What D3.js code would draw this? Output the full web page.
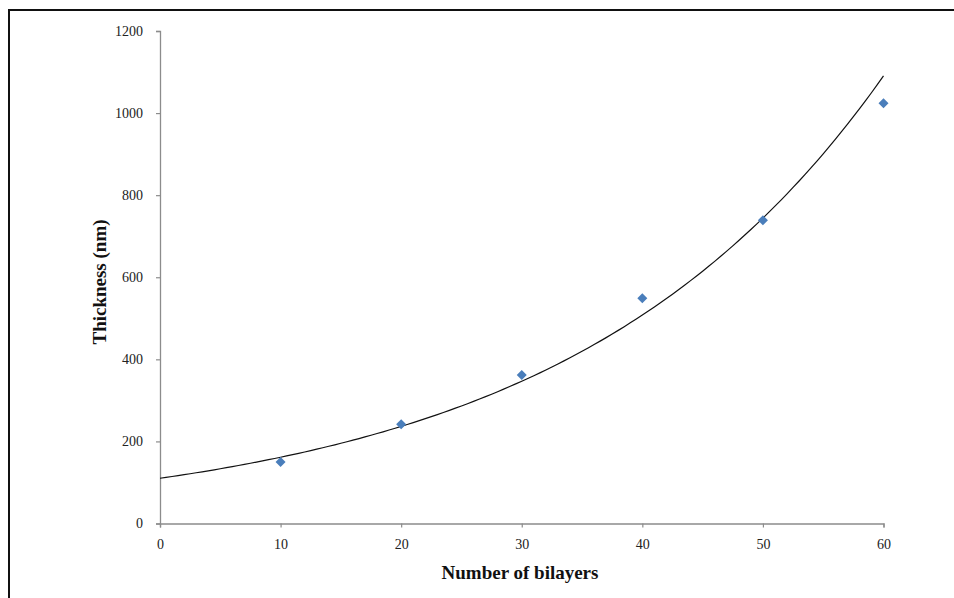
<!DOCTYPE html>
<html>
<head>
<meta charset="utf-8">
<script src="https://cdn.jsdelivr.net/npm/d3@7"></script>
<style>
  html, body { margin: 0; padding: 0; background: #fff; }
  svg { display: block; }
  .tick text { font-family: "Liberation Serif", "Times New Roman", serif; font-size: 14px; fill: #222; }
  .title { font-family: "Liberation Serif", "Times New Roman", serif; font-size: 19px; font-weight: bold; fill: #111; }
</style>
</head>
<body>
<svg id="chart" width="954" height="598"></svg>
<script>
// Film thickness measured after each deposition step
const bilayers = [10, 20, 30, 40, 50, 60];
const thickness = [150, 242, 362, 549, 739, 1024];
const xTicks = [0, 10, 20, 30, 40, 50, 60];
const yTicks = [0, 200, 400, 600, 800, 1000, 1200];

const svg = d3.select("#chart");
const W = 954, H = 598;

// outer frame (runs off the right and bottom edges)
svg.append("rect")
  .attr("x", 9).attr("y", 10)
  .attr("width", W + 20).attr("height", H + 20)
  .attr("fill", "#fff").attr("stroke", "#111").attr("stroke-width", 2);

const x = d3.scaleLinear().domain([0, 60]).range([160, 883.5]);
const y = d3.scaleLinear().domain([0, 1200]).range([523.5, 31]);

const axisColor = "#8c8c8c";

// y axis
const gy = svg.append("g")
  .attr("transform", `translate(${x(0)},0)`)
  .call(d3.axisLeft(y).tickValues(yTicks).tickSize(4).tickPadding(13).tickFormat(d3.format("d")));
gy.select(".domain").attr("stroke", axisColor).attr("stroke-width", 1.3);
gy.selectAll(".tick line").attr("stroke", axisColor).attr("stroke-width", 1.2);

// x axis
const gx = svg.append("g")
  .attr("transform", `translate(0,${y(0)})`)
  .call(d3.axisBottom(x).tickValues(xTicks).tickSize(4).tickPadding(12).tickFormat(d3.format("d")));
gx.select(".domain").attr("stroke", axisColor).attr("stroke-width", 1.3);
gx.selectAll(".tick line").attr("stroke", axisColor).attr("stroke-width", 1.2);

// exponential trendline: least-squares fit of ln(thickness) against bilayers
const lnY = thickness.map(v => Math.log(v));
const mx = d3.mean(bilayers), my = d3.mean(lnY);
const b = d3.sum(bilayers, (v, i) => (v - mx) * (lnY[i] - my)) / d3.sum(bilayers, v => (v - mx) ** 2);
const a = Math.exp(my - b * mx);
const fitX = d3.range(0, 60.001, 0.5);
svg.append("path")
  .datum(fitX)
  .attr("fill", "none")
  .attr("stroke", "#111")
  .attr("stroke-width", 1.2)
  .attr("d", d3.line().x(d => x(d)).y(d => y(a * Math.exp(b * d))));

// data markers (diamonds)
svg.append("g").selectAll("path")
  .data(bilayers.map((v, i) => [v, thickness[i]]))
  .join("path")
  .attr("transform", d => `translate(${x(d[0])},${y(d[1])})`)
  .attr("d", d3.symbol(d3.symbolDiamond2, 64))
  .attr("fill", "#4a7ebb");

// axis titles
svg.append("text").attr("class", "title")
  .attr("x", 520).attr("y", 579)
  .attr("text-anchor", "middle")
  .text("Number of bilayers");

svg.append("text").attr("class", "title")
  .attr("transform", `translate(106,282) rotate(-90)`)
  .attr("text-anchor", "middle")
  .text("Thickness (nm)");
</script>
</body>
</html>
